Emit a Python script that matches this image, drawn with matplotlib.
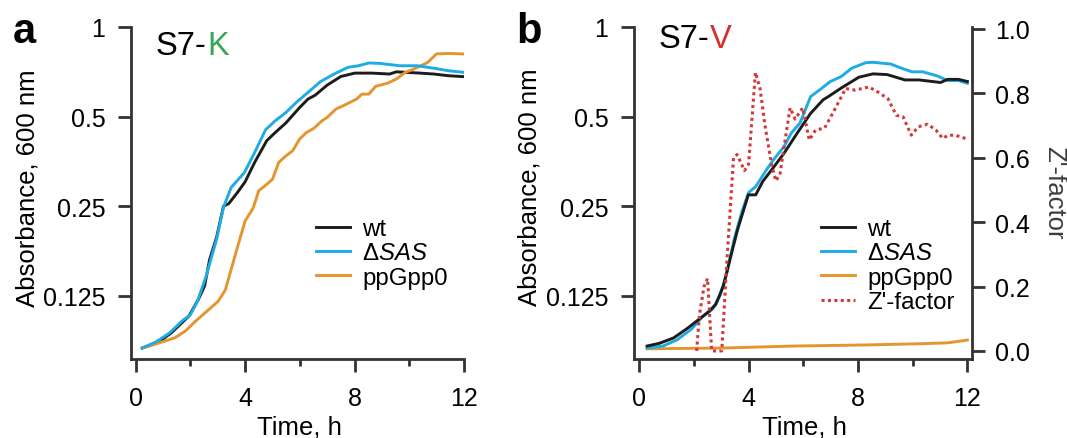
import matplotlib.pyplot as plt
from matplotlib.ticker import FixedLocator, NullLocator

plt.rcParams['font.family'] = ['Liberation Sans', 'DejaVu Sans']
plt.rcParams['mathtext.fontset'] = 'custom'
plt.rcParams['mathtext.rm'] = 'Liberation Sans'
plt.rcParams['mathtext.it'] = 'Liberation Sans:italic'

# ---- panel a : S7-K ----
a_wt_t = [0.24, 0.81, 1.31, 1.95, 2.3, 2.52, 2.7, 2.96, 3.21, 3.4, 3.72, 4.0, 4.35, 4.79, 5.1,
          5.49, 5.99, 6.3, 6.56, 7.0, 7.5, 8.01, 8.64, 9.28, 9.53, 10.4, 10.9, 11.43, 12.0]
a_wt = [0.0835, 0.087, 0.094, 0.107, 0.122, 0.135, 0.165, 0.197, 0.250, 0.255, 0.278, 0.302, 0.351,
        0.415, 0.442, 0.476, 0.536, 0.573, 0.590, 0.638, 0.682, 0.700, 0.700, 0.695, 0.707, 0.700,
        0.695, 0.686, 0.681]

a_sas_t = [0.24, 0.75, 1.25, 1.7, 2.0, 2.26, 2.58, 2.96, 3.21, 3.49, 3.97, 4.35, 4.75, 5.1, 5.49,
           5.87, 6.3, 6.75, 7.25, 7.76, 8.14, 8.52, 8.9, 9.66, 10.3, 10.9, 11.43, 12.0]
a_sas = [0.0835, 0.0876, 0.094, 0.103, 0.108, 0.120, 0.146, 0.194, 0.248, 0.289, 0.324, 0.379,
         0.452, 0.484, 0.516, 0.558, 0.603, 0.655, 0.695, 0.732, 0.741, 0.757, 0.755, 0.741, 0.741,
         0.727, 0.713, 0.704]

a_pp_t = [0.24, 0.81, 1.44, 1.82, 2.2, 2.7, 3.02, 3.28, 3.46, 3.72, 4.0, 4.29, 4.5, 4.73, 5.0,
          5.23, 5.49, 5.74, 5.99, 6.24, 6.5, 6.81, 7.0, 7.32, 7.64, 8.08, 8.27, 8.52, 8.77, 9.22,
          9.53, 9.85, 10.16, 10.67, 10.99, 11.43, 12.0]
a_pp = [0.0835, 0.0866, 0.0904, 0.0953, 0.103, 0.113, 0.120, 0.131, 0.150, 0.182, 0.223, 0.246,
        0.282, 0.293, 0.308, 0.351, 0.369, 0.384, 0.420, 0.442, 0.456, 0.484, 0.497, 0.530, 0.547,
        0.573, 0.595, 0.595, 0.632, 0.648, 0.669, 0.704, 0.722, 0.760, 0.812, 0.815, 0.812]

# ---- panel b : S7-V ----
b_wt_t = [0.29, 0.74, 1.26, 1.78, 2.17, 2.56, 2.8, 3.08, 3.35, 3.6, 3.99, 4.26, 4.52, 4.84, 5.3,
          5.82, 6.27, 6.73, 6.92, 7.38, 8.03, 8.55, 9.07, 9.72, 10.24, 11.02, 11.28, 11.68, 12.0]
b_wt = [0.0848, 0.0866, 0.0903, 0.0975, 0.104, 0.111, 0.117, 0.135, 0.170, 0.209, 0.273, 0.273,
        0.303, 0.331, 0.377, 0.446, 0.513, 0.570, 0.584, 0.623, 0.678, 0.696, 0.692, 0.664, 0.664,
        0.651, 0.667, 0.667, 0.656]

b_sas_t = [0.29, 0.87, 1.39, 1.91, 2.3, 2.69, 2.95, 3.21, 3.47, 3.74, 4.0, 4.26, 4.65, 4.91, 5.3,
           5.56, 5.88, 6.27, 6.6, 6.99, 7.38, 7.77, 8.29, 8.55, 9.2, 9.59, 9.98, 10.37, 10.9,
           11.28, 11.68, 12.0]
b_sas = [0.0835, 0.0848, 0.089, 0.0966, 0.106, 0.113, 0.125, 0.150, 0.193, 0.237, 0.278, 0.291,
         0.331, 0.358, 0.397, 0.440, 0.476, 0.584, 0.615, 0.656, 0.681, 0.727, 0.759, 0.761, 0.751,
         0.727, 0.707, 0.707, 0.685, 0.661, 0.661, 0.647]

b_pp_t = [0.29, 3.08, 5.69, 8.29, 10.24, 11.28, 12.0]
b_pp = [0.0830, 0.0835, 0.0848, 0.0855, 0.0863, 0.0869, 0.0888]

z_t = [2.1, 2.2, 2.37, 2.5, 2.65, 3.02, 3.2, 3.45, 3.58, 3.85, 4.0, 4.25, 4.42, 4.6, 4.85, 5.0,
       5.15, 5.4, 5.52, 5.7, 5.98, 6.22, 6.45, 6.78, 7.12, 7.55, 7.9, 8.4, 8.75, 9.1, 9.4, 9.65,
       9.95, 10.2, 10.55, 10.85, 11.1, 11.3, 11.55, 12.0]
z_val = [0.0, 0.11, 0.2, 0.225, 0.0, 0.0, 0.27, 0.6, 0.61, 0.56, 0.58, 0.865, 0.815, 0.70, 0.575,
         0.528, 0.55, 0.69, 0.755, 0.72, 0.755, 0.655, 0.686, 0.692, 0.745, 0.815, 0.81, 0.82,
         0.803, 0.783, 0.732, 0.727, 0.67, 0.696, 0.704, 0.686, 0.66, 0.67, 0.67, 0.658]

y_ticks = [0.125, 0.25, 0.5, 1]
y_ticklabels = ['0.125', '0.25', '0.5', '1']
x_major = [0, 4, 8, 12]
x_minor = [2, 6, 10]
z_ticks = [0.0, 0.2, 0.4, 0.6, 0.8, 1.0]

c_wt = '#1c1c1c'
c_sas = '#1eabe6'
c_pp = '#e3952f'
c_z = '#d23a3a'
c_ax = '#333333'

W, H = 1067, 439
fig = plt.figure(figsize=(W / 100, H / 100), dpi=100)


def px_axes(l, r, t, b):
    return fig.add_axes([l / W, 1 - b / H, (r - l) / W, (b - t) / H])


def style(ax, xlim):
    ax.set_yscale('log', base=2)
    ax.set_ylim(0.0767, 1.0)
    ax.set_xlim(*xlim)
    ax.yaxis.set_major_locator(FixedLocator(y_ticks))
    ax.set_yticklabels(y_ticklabels)
    ax.yaxis.set_minor_locator(NullLocator())
    ax.xaxis.set_major_locator(FixedLocator(x_major))
    ax.xaxis.set_minor_locator(FixedLocator(x_minor))
    ax.set_xticklabels([str(v) for v in x_major])
    for s in ['top', 'right']:
        ax.spines[s].set_visible(False)
    for s in ['left', 'bottom']:
        ax.spines[s].set_linewidth(2.0)
        ax.spines[s].set_color(c_ax)
    ax.tick_params(axis='both', which='major', direction='out', length=9.5, width=2.0,
                   color=c_ax, labelsize=18)
    ax.tick_params(axis='y', which='major', pad=9)
    ax.tick_params(axis='x', which='major', pad=10)
    ax.tick_params(axis='x', which='minor', direction='out', length=5, width=2.0, color=c_ax)
    ax.set_xlabel('Time, h', fontsize=18.5)
    ax.set_ylabel('Absorbance, 600 nm', fontsize=18.5)
    ax.patch.set_alpha(0)


lw = 2.1

# panel a
axa = px_axes(131, 464, 28, 360)
style(axa, (-0.17, 12.0))
la1, = axa.plot(a_wt_t, a_wt, color=c_wt, lw=lw)
la3, = axa.plot(a_pp_t, a_pp, color=c_pp, lw=lw)
la2, = axa.plot(a_sas_t, a_sas, color=c_sas, lw=lw)
axa.yaxis.set_label_coords(-0.276, 0.518)
axa.xaxis.set_label_coords(0.507, -0.168)

sas_label = r'Δ$\it{SAS}$'
axa.legend([la1, la2, la3], ['wt', sas_label, 'ppGpp0'], loc='center left',
           bbox_to_anchor=(316 / W, 1 - 254.5 / H), bbox_transform=fig.transFigure,
           frameon=False, fontsize=17.3, handlelength=1.42, handletextpad=0.5,
           labelspacing=0.1, borderpad=0, borderaxespad=0)

t1 = axa.text(156 / W, 1 - 55 / H, 'S7-', transform=fig.transFigure, fontsize=23.5,
              ha='left', va='baseline', color='black')
axa.annotate('K', xy=(1, 0), xycoords=t1, fontsize=23.5, ha='left', va='bottom', color='#3aa655')

# panel b
axb = px_axes(634, 972, 28, 360)
style(axb, (-0.19, 12.17))
lb3, = axb.plot(b_pp_t, b_pp, color=c_pp, lw=lw)
lb2, = axb.plot(b_sas_t, b_sas, color=c_sas, lw=lw)
lb1, = axb.plot(b_wt_t, b_wt, color=c_wt, lw=lw)
axb.yaxis.set_label_coords(-0.274, 0.522)
axb.xaxis.set_label_coords(0.505, -0.168)

axz = axb.twinx()
axz.set_ylim(-0.025, 1.006)
lz, = axz.plot(z_t, z_val, color=c_z, lw=2.2, linestyle=(0, (1, 1.1)))
axz.yaxis.set_major_locator(FixedLocator(z_ticks))
axz.set_yticklabels(['%.1f' % v for v in z_ticks])
for s in ['top', 'left', 'bottom']:
    axz.spines[s].set_visible(False)
axz.spines['right'].set_linewidth(2.0)
axz.spines['right'].set_color(c_ax)
axz.tick_params(axis='y', direction='out', length=9.5, width=2.0, color=c_ax, labelsize=18, pad=7)
axz.text(1.243, 0.503, "Z'-factor", transform=axz.transAxes, rotation=270, fontsize=18.5,
         ha='center', va='center', color='#3d3d3d')

axb.legend([lb1, lb2, lb3, lz], ['wt', sas_label, 'ppGpp0', "Z'-factor"], loc='center left',
           bbox_to_anchor=(821 / W, 1 - 266.7 / H), bbox_transform=fig.transFigure,
           frameon=False, fontsize=17.3, handlelength=1.42, handletextpad=0.5,
           labelspacing=0.1, borderpad=0, borderaxespad=0).set_zorder(5)

t2 = axb.text(659 / W, 1 - 48 / H, 'S7-', transform=fig.transFigure, fontsize=23.5,
              ha='left', va='baseline', color='black')
axb.annotate('V', xy=(1, 0), xycoords=t2, fontsize=23.5, ha='left', va='bottom', color='#d62f2f')

fig.text(13 / W, 1 - 43 / H, 'a', fontsize=30, fontweight='bold', ha='left', va='baseline')
fig.text(516 / W, 1 - 43 / H, 'b', fontsize=30, fontweight='bold', ha='left', va='baseline')

fig.savefig('out.png', dpi=100)
